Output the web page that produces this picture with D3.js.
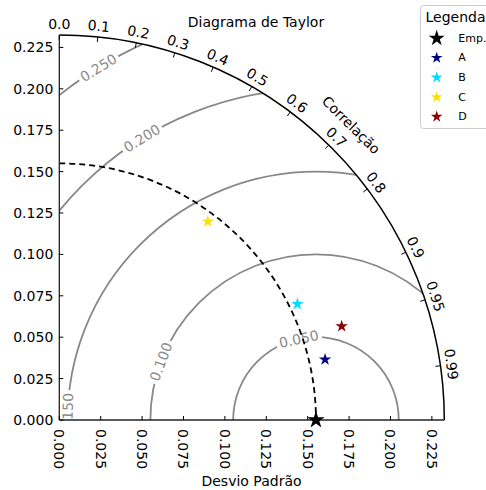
<!DOCTYPE html>
<html>
<head>
<meta charset="utf-8">
<script src="https://cdn.jsdelivr.net/npm/d3@7"></script>
<style>
  body { margin: 0; background: #fff; }
  text { font-family: "DejaVu Sans", sans-serif; }
</style>
</head>
<body>
<div id="chart"></div>
<script>
// data
const refStd = 0.155;
const modelNames = ["A", "B", "C", "D"];
const modelStd = [0.1646, 0.1599, 0.1497, 0.1797];
const modelCorr = [0.975, 0.899, 0.599, 0.949];
const modelColors = ["#000080", "#00dcff", "#ffdf00", "#8b0000"];
const corrTicks = [0.0, 0.1, 0.2, 0.3, 0.4, 0.5, 0.6, 0.7, 0.8, 0.9, 0.95, 0.99];
const corrLabels = ["0.0", "0.1", "0.2", "0.3", "0.4", "0.5", "0.6", "0.7", "0.8", "0.9", "0.95", "0.99"];
const stdTicks = [0, 0.025, 0.05, 0.075, 0.1, 0.125, 0.15, 0.175, 0.2, 0.225];
const rmsLevels = [0.05, 0.1, 0.15, 0.2, 0.25];
// angle (deg, from center of ref) where each rms label sits
const rmsLabelAngle = [102, 159.4, 178.4, 121.7, 121.7];

const width = 486, height = 490;
const ox = 59.3, oy = 420;
const rMax = refStd * 1.5;

const r = d3.scaleLinear().domain([0, rMax]).range([0, 385]);
const px = (x) => ox + r(x);
const py = (y) => oy - r(y);

const svg = d3.select("#chart").append("svg")
    .attr("width", width)
    .attr("height", height);

// clip to the quarter circle
const defs = svg.append("defs");
defs.append("clipPath").attr("id", "quarter")
    .append("path")
    .attr("d", `M${ox},${oy} L${ox},${oy - r(rMax)} A${r(rMax)},${r(rMax)} 0 0 1 ${ox + r(rMax)},${oy} Z`);
defs.append("clipPath").attr("id", "box")
    .append("rect")
    .attr("x", ox).attr("y", oy - r(rMax) - 5)
    .attr("width", r(rMax) + 5).attr("height", r(rMax) + 5);

// rms contours
const rmsG = svg.append("g").attr("clip-path", "url(#quarter)");
rmsG.selectAll("circle")
    .data(rmsLevels)
    .enter().append("circle")
    .attr("cx", px(refStd))
    .attr("cy", oy)
    .attr("r", (d) => r(d))
    .attr("fill", "none")
    .attr("stroke", "#888")
    .attr("stroke-width", 1.8);

// rms labels (inline: the line is cut under the label)
const labG = svg.append("g").attr("clip-path", "url(#box)");
const lab = labG.selectAll("g")
    .data(rmsLevels)
    .enter().append("g")
    .attr("transform", (d, i) => {
        const a = rmsLabelAngle[i] * Math.PI / 180;
        const x = px(refStd + d * Math.cos(a));
        const y = py(d * Math.sin(a));
        return `translate(${x},${y}) rotate(${90 - rmsLabelAngle[i]})`;
    });
lab.append("rect")
    .attr("x", -23).attr("y", -5)
    .attr("width", 46).attr("height", 10)
    .attr("fill", "#fff");
lab.append("text")
    .attr("text-anchor", "middle")
    .attr("dominant-baseline", "central")
    .attr("font-size", 14)
    .attr("fill", "#8a8a8a")
    .text((d) => d.toFixed(3));

// reference std arc (dashed)
svg.append("path")
    .attr("d", `M${ox},${py(refStd)} A${r(refStd)},${r(refStd)} 0 0 1 ${px(refStd)},${oy}`)
    .attr("fill", "none")
    .attr("stroke", "#000")
    .attr("stroke-width", 1.8)
    .attr("stroke-dasharray", "6,4");

// outer arc
svg.append("path")
    .attr("d", `M${ox},${py(rMax)} A${r(rMax)},${r(rMax)} 0 0 1 ${px(rMax)},${oy}`)
    .attr("fill", "none")
    .attr("stroke", "#000")
    .attr("stroke-width", 1.5);

// left and bottom axis lines
svg.append("line")
    .attr("x1", ox).attr("y1", oy).attr("x2", ox).attr("y2", py(rMax))
    .attr("stroke", "#222").attr("stroke-width", 1.3);
svg.append("line")
    .attr("x1", ox).attr("y1", oy).attr("x2", px(rMax)).attr("y2", oy)
    .attr("stroke", "#222").attr("stroke-width", 1.3);

// std ticks on both axes (inward)
const tickFmt = d3.format(".3f");
const yAx = svg.append("g");
yAx.selectAll("line").data(stdTicks).enter().append("line")
    .attr("x1", ox).attr("x2", ox + 4)
    .attr("y1", (d) => py(d)).attr("y2", (d) => py(d))
    .attr("stroke", "#000");
yAx.selectAll("text").data(stdTicks).enter().append("text")
    .attr("x", ox - 6)
    .attr("y", (d) => py(d))
    .attr("text-anchor", "end")
    .attr("dominant-baseline", "central")
    .attr("font-size", 14)
    .text(tickFmt);

const xAx = svg.append("g");
xAx.selectAll("line").data(stdTicks).enter().append("line")
    .attr("x1", (d) => px(d)).attr("x2", (d) => px(d))
    .attr("y1", oy).attr("y2", oy - 4)
    .attr("stroke", "#000");
xAx.selectAll("text").data(stdTicks).enter().append("text")
    .attr("transform", (d) => `translate(${px(d)},${oy + 9}) rotate(90)`)
    .attr("text-anchor", "start")
    .attr("dominant-baseline", "central")
    .attr("font-size", 14)
    .text(tickFmt);

// correlation ticks and labels
const corrG = svg.append("g");
const R = r(rMax);
corrG.selectAll("line").data(corrTicks).enter().append("line")
    .attr("x1", (d) => ox + R * d)
    .attr("y1", (d) => oy - R * Math.sin(Math.acos(d)))
    .attr("x2", (d) => ox + (R - 5) * d)
    .attr("y2", (d) => oy - (R - 5) * Math.sin(Math.acos(d)))
    .attr("stroke", "#000");
corrG.selectAll("text").data(corrTicks).enter().append("text")
    .attr("transform", (d) => {
        const t = Math.acos(d);
        const x = ox + (R + 11) * Math.cos(t);
        const y = oy - (R + 11) * Math.sin(t);
        return `translate(${x},${y}) rotate(${90 - t * 180 / Math.PI})`;
    })
    .attr("text-anchor", "middle")
    .attr("dominant-baseline", "central")
    .attr("font-size", 14)
    .text((d, i) => corrLabels[i]);

svg.append("text")
    .attr("transform", () => {
        const t = 45.3 * Math.PI / 180;
        return `translate(${ox + 415 * Math.cos(t)},${oy - 415 * Math.sin(t)}) rotate(44.7)`;
    })
    .attr("text-anchor", "middle")
    .attr("dominant-baseline", "central")
    .attr("font-size", 14)
    .text("Correlação");

// points
const star = d3.symbol().type(d3.symbolStar);
svg.append("path")
    .attr("d", star.size(95)())
    .attr("transform", `translate(${px(refStd)},${oy})`)
    .attr("fill", "#000");
svg.selectAll(".model")
    .data(modelNames)
    .enter().append("path")
    .attr("class", "model")
    .attr("d", star.size(48)())
    .attr("transform", (d, i) => {
        const t = Math.acos(modelCorr[i]);
        return `translate(${px(modelStd[i] * Math.cos(t))},${py(modelStd[i] * Math.sin(t))})`;
    })
    .attr("fill", (d, i) => modelColors[i]);

// titles
svg.append("text")
    .attr("x", 256).attr("y", 27)
    .attr("text-anchor", "middle")
    .attr("font-size", 14)
    .text("Diagrama de Taylor");
svg.append("text")
    .attr("x", 251.5).attr("y", 486)
    .attr("text-anchor", "middle")
    .attr("font-size", 14)
    .text("Desvio Padrão");

// legend
const leg = svg.append("g");
leg.append("rect")
    .attr("x", 420.5).attr("y", 5.5)
    .attr("width", 80).attr("height", 123)
    .attr("rx", 3)
    .attr("fill", "#fff")
    .attr("stroke", "#ccc");
leg.append("text")
    .attr("x", 425.5).attr("y", 22)
    .attr("font-size", 14)
    .text("Legenda");
const legNames = ["Emp."].concat(modelNames);
const legColors = ["#000"].concat(modelColors);
const legY = d3.scalePoint().domain(legNames).range([38.3, 116.7]);
leg.selectAll(".ls").data(legNames).enter().append("path")
    .attr("class", "ls")
    .attr("d", (d, i) => star.size(i === 0 ? 80 : 42)())
    .attr("transform", (d) => `translate(436.7,${legY(d)})`)
    .attr("fill", (d, i) => legColors[i]);
leg.selectAll(".lt").data(legNames).enter().append("text")
    .attr("class", "lt")
    .attr("x", 458.3)
    .attr("y", (d) => legY(d))
    .attr("dominant-baseline", "central")
    .attr("font-size", 11)
    .text((d) => d);
</script>
</body>
</html>
